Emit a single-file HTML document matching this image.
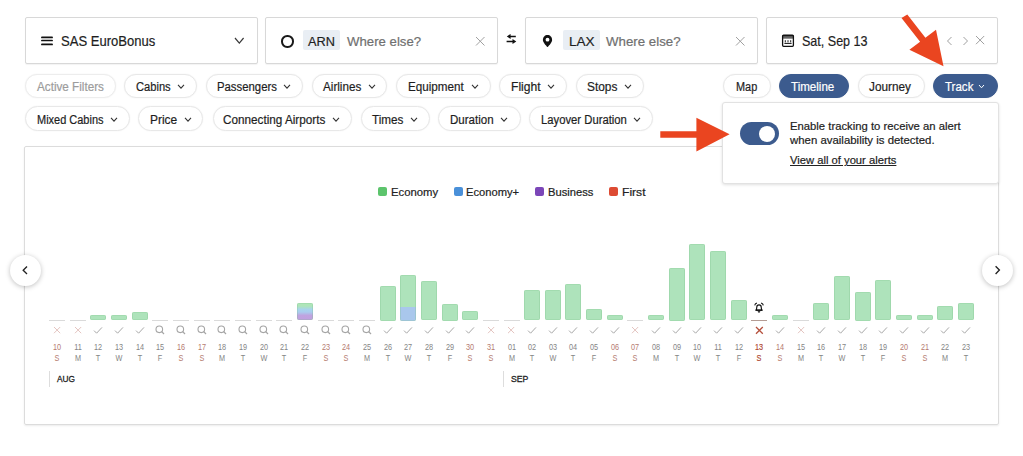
<!DOCTYPE html>
<html><head><meta charset="utf-8"><style>
*{margin:0;padding:0;box-sizing:border-box}
html,body{width:1023px;height:456px;overflow:hidden;background:#fff;font-family:"Liberation Sans", sans-serif;position:relative}
.tx{position:absolute;white-space:nowrap;transform-origin:0 0;-webkit-text-stroke:0.2px currentColor}
.box{position:absolute;top:17px;height:47px;border:1px solid #d8d8d8;border-radius:2px;background:#fff;box-shadow:0 1px 1px rgba(0,0,0,0.05)}
.chip{position:absolute;top:30px;height:20px;background:#e9eef4;border-radius:2px}
.pill{position:absolute;height:24.4px;border:1px solid #e8e8e8;border-radius:13px;background:#fff;box-shadow:0 0 1.5px rgba(0,0,0,0.07)}
.pill.inactive{border-color:#ededed}
.pill.active{background:#3c5b8e;border-color:#3c5b8e}
.card{position:absolute;left:23.7px;top:146.2px;width:975.4px;height:279.3px;border:1px solid #dcdcdc;border-radius:2px;box-shadow:0 1px 2px rgba(0,0,0,0.08)}
.nav{position:absolute;top:254.5px;width:31px;height:31px;border-radius:50%;background:#fff;box-shadow:0 1px 5px rgba(0,0,0,0.25)}
.nav svg{display:block}
.bar{position:absolute;width:16px;background:#aee3bb;border-radius:2px;box-shadow:inset 0 0 0 0.6px rgba(120,190,135,0.45)}
.dl{position:absolute;top:342.3px;width:20px;text-align:center;font-size:9.6px;line-height:10.4px;transform:scaleX(0.76);white-space:nowrap}
.pop{position:absolute;left:722.3px;top:102px;width:276.7px;height:82px;background:#fff;border:1px solid #e2e2e2;border-radius:3px;box-shadow:0 1px 3px rgba(0,0,0,0.12)}
</style></head><body>
<div class="box" style="left:25px;width:232.5px"></div>
<div class="box" style="left:265px;width:233px"></div>
<div class="box" style="left:525px;width:233px"></div>
<div class="box" style="left:766px;width:232px"></div>
<svg style="position:absolute;left:41px;top:36px" width="12" height="10" viewBox="0 0 12 10"><path d="M0.9 1.4h10.2M0.9 4.5h10.2M0.9 8.4h10.2" stroke="#111" stroke-width="1.7" stroke-linecap="round"/></svg>
<svg style="position:absolute;left:234.3px;top:37.3px" width="10.6" height="7.1" viewBox="-1 -1 10.6 7.1"><path d="M0 0 L4.3 5.1 L8.6 0" fill="none" stroke="#3a3a3a" stroke-width="1.2"/></svg>
<div style="position:absolute;left:281.3px;top:35.2px;width:12.4px;height:12.4px;border:2.1px solid #1a1a1a;border-radius:50%"></div>
<div class="chip" style="left:303px;width:37px"></div>
<svg style="position:absolute;left:474.6px;top:36.2px" width="10.5" height="10.5" viewBox="-1 -1 10.5 10.5"><path d="M0 0L8.5 8.5M8.5 0L0 8.5" stroke="#a0a0a0" stroke-width="1.0" fill="none"/></svg>
<svg style="position:absolute;left:505px;top:32px" width="13" height="12" viewBox="0 0 13 12"><path d="M4.5 4.4h6.3M1.6 9.4h6.5" stroke="#111" stroke-width="1.5"/><path d="M1.8 4.4L5.6 1.9V6.9Z M11.3 9.4L7.5 6.9V11.9Z" fill="#111"/></svg>
<svg style="position:absolute;left:542.2px;top:34.7px" width="11" height="12" viewBox="0 0 11 12"><path d="M5.5 0C2.9 0 0.9 2.1 0.9 4.9C0.9 7.8 5.5 12 5.5 12C5.5 12 10.1 7.8 10.1 4.9C10.1 2.1 8.1 0 5.5 0Z" fill="#111"/><circle cx="5.5" cy="4.7" r="1.9" fill="#fff"/></svg>
<div class="chip" style="left:563px;width:37px"></div>
<svg style="position:absolute;left:735.2px;top:36.2px" width="10.5" height="10.5" viewBox="-1 -1 10.5 10.5"><path d="M0 0L8.5 8.5M8.5 0L0 8.5" stroke="#a0a0a0" stroke-width="1.0" fill="none"/></svg>
<svg style="position:absolute;left:781px;top:33px" width="14" height="15" viewBox="0 0 14 15"><rect x="1.6" y="2.1" width="10.8" height="11.2" rx="1" fill="none" stroke="#111" stroke-width="1.3"/><rect x="1.6" y="2.1" width="10.8" height="1.6" fill="#111"/><path d="M1.6 4.9h10.8" stroke="#111" stroke-width="1.1"/><path d="M4.3 7.2v2.2M7 7.2v2.2M9.7 7.2v2.2" stroke="#222" stroke-width="1"/><path d="M3.4 10.4h7.2" stroke="#111" stroke-width="1"/></svg>
<svg style="position:absolute;left:945.5px;top:36px" width="8" height="10" viewBox="0 0 8 10"><path d="M5.5 1L1.5 5L5.5 9" fill="none" stroke="#a0a0a0" stroke-width="1"/></svg>
<svg style="position:absolute;left:961.5px;top:36px" width="8" height="10" viewBox="0 0 8 10"><path d="M1.5 1L5.5 5L1.5 9" fill="none" stroke="#a0a0a0" stroke-width="1"/></svg>
<svg style="position:absolute;left:975.4px;top:35.3px" width="10.2" height="10.2" viewBox="-1 -1 10.2 10.2"><path d="M0 0L8.2 8.2M8.2 0L0 8.2" stroke="#a0a0a0" stroke-width="1.0" fill="none"/></svg>
<div class="pill inactive" style="left:25px;width:91px;top:73.6px"></div>
<div class="pill" style="left:124px;width:73px;top:73.6px"></div>
<svg style="position:absolute;left:177.4px;top:83.9px" width="8" height="5.2" viewBox="-1 -1 8 5.2"><path d="M0 0 L3.0 3.2 L6 0" fill="none" stroke="#333" stroke-width="1.1"/></svg>
<div class="pill" style="left:206px;width:97px;top:73.6px"></div>
<svg style="position:absolute;left:283.4px;top:83.9px" width="8" height="5.2" viewBox="-1 -1 8 5.2"><path d="M0 0 L3.0 3.2 L6 0" fill="none" stroke="#333" stroke-width="1.1"/></svg>
<div class="pill" style="left:311.5px;width:75.5px;top:73.6px"></div>
<svg style="position:absolute;left:368.3px;top:83.9px" width="8" height="5.2" viewBox="-1 -1 8 5.2"><path d="M0 0 L3.0 3.2 L6 0" fill="none" stroke="#333" stroke-width="1.1"/></svg>
<div class="pill" style="left:396px;width:94.5px;top:73.6px"></div>
<svg style="position:absolute;left:470.9px;top:83.9px" width="8" height="5.2" viewBox="-1 -1 8 5.2"><path d="M0 0 L3.0 3.2 L6 0" fill="none" stroke="#333" stroke-width="1.1"/></svg>
<div class="pill" style="left:499px;width:67.5px;top:73.6px"></div>
<svg style="position:absolute;left:547.1px;top:83.9px" width="8" height="5.2" viewBox="-1 -1 8 5.2"><path d="M0 0 L3.0 3.2 L6 0" fill="none" stroke="#333" stroke-width="1.1"/></svg>
<div class="pill" style="left:575.5px;width:68.0px;top:73.6px"></div>
<svg style="position:absolute;left:623.9px;top:83.9px" width="8" height="5.2" viewBox="-1 -1 8 5.2"><path d="M0 0 L3.0 3.2 L6 0" fill="none" stroke="#333" stroke-width="1.1"/></svg>
<div class="pill" style="left:25px;width:104.5px;top:106.2px"></div>
<svg style="position:absolute;left:109.9px;top:117.1px" width="8" height="5.2" viewBox="-1 -1 8 5.2"><path d="M0 0 L3.0 3.2 L6 0" fill="none" stroke="#333" stroke-width="1.1"/></svg>
<div class="pill" style="left:138px;width:65px;top:106.2px"></div>
<svg style="position:absolute;left:183.6px;top:117.1px" width="8" height="5.2" viewBox="-1 -1 8 5.2"><path d="M0 0 L3.0 3.2 L6 0" fill="none" stroke="#333" stroke-width="1.1"/></svg>
<div class="pill" style="left:212.5px;width:139.0px;top:106.2px"></div>
<svg style="position:absolute;left:331.9px;top:117.1px" width="8" height="5.2" viewBox="-1 -1 8 5.2"><path d="M0 0 L3.0 3.2 L6 0" fill="none" stroke="#333" stroke-width="1.1"/></svg>
<div class="pill" style="left:360.5px;width:69.0px;top:106.2px"></div>
<svg style="position:absolute;left:410.2px;top:117.1px" width="8" height="5.2" viewBox="-1 -1 8 5.2"><path d="M0 0 L3.0 3.2 L6 0" fill="none" stroke="#333" stroke-width="1.1"/></svg>
<div class="pill" style="left:438px;width:82.5px;top:106.2px"></div>
<svg style="position:absolute;left:500.09999999999997px;top:117.1px" width="8" height="5.2" viewBox="-1 -1 8 5.2"><path d="M0 0 L3.0 3.2 L6 0" fill="none" stroke="#333" stroke-width="1.1"/></svg>
<div class="pill" style="left:528.5px;width:124.0px;top:106.2px"></div>
<svg style="position:absolute;left:632.9000000000001px;top:117.1px" width="8" height="5.2" viewBox="-1 -1 8 5.2"><path d="M0 0 L3.0 3.2 L6 0" fill="none" stroke="#333" stroke-width="1.1"/></svg>
<div class="pill" style="left:723px;width:48px;top:73.6px"></div>
<div class="pill active" style="left:779px;width:70px;top:73.6px"></div>
<div class="pill" style="left:857.5px;width:67.5px;top:73.6px"></div>
<div class="pill active" style="left:933px;width:65px;top:73.6px"></div>
<svg style="position:absolute;left:977.8px;top:83.8px" width="7" height="4.8" viewBox="-1 -1 7 4.8"><path d="M0 0 L2.5 2.8 L5 0" fill="none" stroke="#fff" stroke-width="1.0"/></svg>
<div class="card"></div>
<div class="nav" style="left:10px"><svg width="31" height="31" viewBox="0 0 31 31"><path d="M17 11.5L13.2 15.2L17 18.9" fill="none" stroke="#222" stroke-width="1.35"/></svg></div>
<div class="nav" style="left:982px"><svg width="31" height="31" viewBox="0 0 31 31"><path d="M13.6 11.3L17.4 15.1L13.6 18.9" fill="none" stroke="#222" stroke-width="1.35"/></svg></div>
<div style="position:absolute;left:377.8px;top:187.4px;width:9.3px;height:8.4px;background:#5cc46c;border-radius:2px"></div>
<div style="position:absolute;left:453.8px;top:187.4px;width:9.3px;height:8.4px;background:#4a90d9;border-radius:2px"></div>
<div style="position:absolute;left:534.5px;top:187.4px;width:9.3px;height:8.4px;background:#7b46b8;border-radius:2px"></div>
<div style="position:absolute;left:608.5px;top:187.4px;width:9.3px;height:8.4px;background:#dd4b33;border-radius:2px"></div>
<div style="position:absolute;left:49.00px;top:319.5px;width:16px;height:1px;background:#dadada"></div>
<svg style="position:absolute;left:52.9px;top:325.8px" width="8.2" height="8.2" viewBox="-1 -1 8.2 8.2"><path d="M0 0L6.2 6.2M6.2 0L0 6.2" stroke="#e4c4c0" stroke-width="1.0" fill="none"/></svg>
<div class="dl" style="left:47.00px;color:#b57b70;">10<br>S</div>
<div style="position:absolute;left:69.66px;top:319.5px;width:16px;height:1px;background:#dadada"></div>
<svg style="position:absolute;left:73.55909090909091px;top:325.8px" width="8.2" height="8.2" viewBox="-1 -1 8.2 8.2"><path d="M0 0L6.2 6.2M6.2 0L0 6.2" stroke="#e4c4c0" stroke-width="1.0" fill="none"/></svg>
<div class="dl" style="left:67.66px;color:#858585;">11<br>M</div>
<div class="bar" style="left:90.32px;top:315.2px;height:5.3px"></div>
<svg style="position:absolute;left:93.32px;top:325.5px" width="10" height="9" viewBox="0 0 10 9"><path d="M1 4.6L3.6 7.2L9 1.4" fill="none" stroke="#a8a8a8" stroke-width="1"/></svg>
<div class="dl" style="left:88.32px;color:#858585;">12<br>T</div>
<div class="bar" style="left:110.98px;top:315.2px;height:5.3px"></div>
<svg style="position:absolute;left:113.98px;top:325.5px" width="10" height="9" viewBox="0 0 10 9"><path d="M1 4.6L3.6 7.2L9 1.4" fill="none" stroke="#a8a8a8" stroke-width="1"/></svg>
<div class="dl" style="left:108.98px;color:#858585;">13<br>W</div>
<div class="bar" style="left:131.64px;top:312.4px;height:8.1px"></div>
<svg style="position:absolute;left:134.64px;top:325.5px" width="10" height="9" viewBox="0 0 10 9"><path d="M1 4.6L3.6 7.2L9 1.4" fill="none" stroke="#a8a8a8" stroke-width="1"/></svg>
<div class="dl" style="left:129.64px;color:#858585;">14<br>T</div>
<div style="position:absolute;left:152.30px;top:319.5px;width:16px;height:1px;background:#dadada"></div>
<svg style="position:absolute;left:155.30px;top:325px" width="10" height="10" viewBox="0 0 10 10"><circle cx="4.3" cy="4.3" r="3.3" fill="none" stroke="#a5a5a5" stroke-width="1.1"/><path d="M6.7 6.7L9 9" stroke="#a5a5a5" stroke-width="1.2"/></svg>
<div class="dl" style="left:150.30px;color:#858585;">15<br>F</div>
<div style="position:absolute;left:172.95px;top:319.5px;width:16px;height:1px;background:#dadada"></div>
<svg style="position:absolute;left:175.95px;top:325px" width="10" height="10" viewBox="0 0 10 10"><circle cx="4.3" cy="4.3" r="3.3" fill="none" stroke="#a5a5a5" stroke-width="1.1"/><path d="M6.7 6.7L9 9" stroke="#a5a5a5" stroke-width="1.2"/></svg>
<div class="dl" style="left:170.95px;color:#b57b70;">16<br>S</div>
<div style="position:absolute;left:193.61px;top:319.5px;width:16px;height:1px;background:#dadada"></div>
<svg style="position:absolute;left:196.61px;top:325px" width="10" height="10" viewBox="0 0 10 10"><circle cx="4.3" cy="4.3" r="3.3" fill="none" stroke="#a5a5a5" stroke-width="1.1"/><path d="M6.7 6.7L9 9" stroke="#a5a5a5" stroke-width="1.2"/></svg>
<div class="dl" style="left:191.61px;color:#b57b70;">17<br>S</div>
<div style="position:absolute;left:214.27px;top:319.5px;width:16px;height:1px;background:#dadada"></div>
<svg style="position:absolute;left:217.27px;top:325px" width="10" height="10" viewBox="0 0 10 10"><circle cx="4.3" cy="4.3" r="3.3" fill="none" stroke="#a5a5a5" stroke-width="1.1"/><path d="M6.7 6.7L9 9" stroke="#a5a5a5" stroke-width="1.2"/></svg>
<div class="dl" style="left:212.27px;color:#858585;">18<br>M</div>
<div style="position:absolute;left:234.93px;top:319.5px;width:16px;height:1px;background:#dadada"></div>
<svg style="position:absolute;left:237.93px;top:325px" width="10" height="10" viewBox="0 0 10 10"><circle cx="4.3" cy="4.3" r="3.3" fill="none" stroke="#a5a5a5" stroke-width="1.1"/><path d="M6.7 6.7L9 9" stroke="#a5a5a5" stroke-width="1.2"/></svg>
<div class="dl" style="left:232.93px;color:#858585;">19<br>T</div>
<div style="position:absolute;left:255.59px;top:319.5px;width:16px;height:1px;background:#dadada"></div>
<svg style="position:absolute;left:258.59px;top:325px" width="10" height="10" viewBox="0 0 10 10"><circle cx="4.3" cy="4.3" r="3.3" fill="none" stroke="#a5a5a5" stroke-width="1.1"/><path d="M6.7 6.7L9 9" stroke="#a5a5a5" stroke-width="1.2"/></svg>
<div class="dl" style="left:253.59px;color:#858585;">20<br>W</div>
<div style="position:absolute;left:276.25px;top:319.5px;width:16px;height:1px;background:#dadada"></div>
<svg style="position:absolute;left:279.25px;top:325px" width="10" height="10" viewBox="0 0 10 10"><circle cx="4.3" cy="4.3" r="3.3" fill="none" stroke="#a5a5a5" stroke-width="1.1"/><path d="M6.7 6.7L9 9" stroke="#a5a5a5" stroke-width="1.2"/></svg>
<div class="dl" style="left:274.25px;color:#858585;">21<br>T</div>
<div class="bar" style="left:296.91px;top:303.2px;height:17.3px;background:linear-gradient(#aee5b9 0,#aee5b9 3px,#a8d3ec 6.5px,#a9cdee 9px,#bfa3e0 12.5px,#c0a0df 100%)"></div>
<svg style="position:absolute;left:299.91px;top:325px" width="10" height="10" viewBox="0 0 10 10"><circle cx="4.3" cy="4.3" r="3.3" fill="none" stroke="#a5a5a5" stroke-width="1.1"/><path d="M6.7 6.7L9 9" stroke="#a5a5a5" stroke-width="1.2"/></svg>
<div class="dl" style="left:294.91px;color:#858585;">22<br>F</div>
<div style="position:absolute;left:317.57px;top:319.5px;width:16px;height:1px;background:#dadada"></div>
<svg style="position:absolute;left:320.57px;top:325px" width="10" height="10" viewBox="0 0 10 10"><circle cx="4.3" cy="4.3" r="3.3" fill="none" stroke="#a5a5a5" stroke-width="1.1"/><path d="M6.7 6.7L9 9" stroke="#a5a5a5" stroke-width="1.2"/></svg>
<div class="dl" style="left:315.57px;color:#b57b70;">23<br>S</div>
<div style="position:absolute;left:338.23px;top:319.5px;width:16px;height:1px;background:#dadada"></div>
<svg style="position:absolute;left:341.23px;top:325px" width="10" height="10" viewBox="0 0 10 10"><circle cx="4.3" cy="4.3" r="3.3" fill="none" stroke="#a5a5a5" stroke-width="1.1"/><path d="M6.7 6.7L9 9" stroke="#a5a5a5" stroke-width="1.2"/></svg>
<div class="dl" style="left:336.23px;color:#b57b70;">24<br>S</div>
<div style="position:absolute;left:358.89px;top:319.5px;width:16px;height:1px;background:#dadada"></div>
<svg style="position:absolute;left:361.89px;top:325px" width="10" height="10" viewBox="0 0 10 10"><circle cx="4.3" cy="4.3" r="3.3" fill="none" stroke="#a5a5a5" stroke-width="1.1"/><path d="M6.7 6.7L9 9" stroke="#a5a5a5" stroke-width="1.2"/></svg>
<div class="dl" style="left:356.89px;color:#858585;">25<br>M</div>
<div class="bar" style="left:379.55px;top:285.5px;height:35.0px"></div>
<svg style="position:absolute;left:382.55px;top:325.5px" width="10" height="9" viewBox="0 0 10 9"><path d="M1 4.6L3.6 7.2L9 1.4" fill="none" stroke="#a8a8a8" stroke-width="1"/></svg>
<div class="dl" style="left:377.55px;color:#858585;">26<br>T</div>
<div class="bar" style="left:400.20px;top:275px;height:45.5px;background:linear-gradient(#aee3bb 0 32.0px,#a9c7ec 32.0px)"></div>
<svg style="position:absolute;left:403.20px;top:325.5px" width="10" height="9" viewBox="0 0 10 9"><path d="M1 4.6L3.6 7.2L9 1.4" fill="none" stroke="#a8a8a8" stroke-width="1"/></svg>
<div class="dl" style="left:398.20px;color:#858585;">27<br>W</div>
<div class="bar" style="left:420.86px;top:280.9px;height:39.6px"></div>
<svg style="position:absolute;left:423.86px;top:325.5px" width="10" height="9" viewBox="0 0 10 9"><path d="M1 4.6L3.6 7.2L9 1.4" fill="none" stroke="#a8a8a8" stroke-width="1"/></svg>
<div class="dl" style="left:418.86px;color:#858585;">28<br>T</div>
<div class="bar" style="left:441.52px;top:303.5px;height:17.0px"></div>
<svg style="position:absolute;left:444.52px;top:325.5px" width="10" height="9" viewBox="0 0 10 9"><path d="M1 4.6L3.6 7.2L9 1.4" fill="none" stroke="#a8a8a8" stroke-width="1"/></svg>
<div class="dl" style="left:439.52px;color:#858585;">29<br>F</div>
<div class="bar" style="left:462.18px;top:311.2px;height:9.3px"></div>
<svg style="position:absolute;left:465.18px;top:325.5px" width="10" height="9" viewBox="0 0 10 9"><path d="M1 4.6L3.6 7.2L9 1.4" fill="none" stroke="#a8a8a8" stroke-width="1"/></svg>
<div class="dl" style="left:460.18px;color:#b57b70;">30<br>S</div>
<div style="position:absolute;left:482.84px;top:319.5px;width:16px;height:1px;background:#dadada"></div>
<svg style="position:absolute;left:486.7409090909091px;top:325.8px" width="8.2" height="8.2" viewBox="-1 -1 8.2 8.2"><path d="M0 0L6.2 6.2M6.2 0L0 6.2" stroke="#e4c4c0" stroke-width="1.0" fill="none"/></svg>
<div class="dl" style="left:480.84px;color:#b57b70;">31<br>S</div>
<div style="position:absolute;left:503.50px;top:319.5px;width:16px;height:1px;background:#dadada"></div>
<svg style="position:absolute;left:507.4px;top:325.8px" width="8.2" height="8.2" viewBox="-1 -1 8.2 8.2"><path d="M0 0L6.2 6.2M6.2 0L0 6.2" stroke="#e4c4c0" stroke-width="1.0" fill="none"/></svg>
<div class="dl" style="left:501.50px;color:#858585;">01<br>M</div>
<div class="bar" style="left:524.16px;top:289.8px;height:30.7px"></div>
<svg style="position:absolute;left:527.16px;top:325.5px" width="10" height="9" viewBox="0 0 10 9"><path d="M1 4.6L3.6 7.2L9 1.4" fill="none" stroke="#a8a8a8" stroke-width="1"/></svg>
<div class="dl" style="left:522.16px;color:#858585;">02<br>T</div>
<div class="bar" style="left:544.82px;top:289.8px;height:30.7px"></div>
<svg style="position:absolute;left:547.82px;top:325.5px" width="10" height="9" viewBox="0 0 10 9"><path d="M1 4.6L3.6 7.2L9 1.4" fill="none" stroke="#a8a8a8" stroke-width="1"/></svg>
<div class="dl" style="left:542.82px;color:#858585;">03<br>W</div>
<div class="bar" style="left:565.48px;top:284.4px;height:36.1px"></div>
<svg style="position:absolute;left:568.48px;top:325.5px" width="10" height="9" viewBox="0 0 10 9"><path d="M1 4.6L3.6 7.2L9 1.4" fill="none" stroke="#a8a8a8" stroke-width="1"/></svg>
<div class="dl" style="left:563.48px;color:#858585;">04<br>T</div>
<div class="bar" style="left:586.14px;top:308.6px;height:11.9px"></div>
<svg style="position:absolute;left:589.14px;top:325.5px" width="10" height="9" viewBox="0 0 10 9"><path d="M1 4.6L3.6 7.2L9 1.4" fill="none" stroke="#a8a8a8" stroke-width="1"/></svg>
<div class="dl" style="left:584.14px;color:#858585;">05<br>F</div>
<div class="bar" style="left:606.80px;top:314.9px;height:5.6px"></div>
<svg style="position:absolute;left:609.80px;top:325.5px" width="10" height="9" viewBox="0 0 10 9"><path d="M1 4.6L3.6 7.2L9 1.4" fill="none" stroke="#a8a8a8" stroke-width="1"/></svg>
<div class="dl" style="left:604.80px;color:#b57b70;">06<br>S</div>
<div style="position:absolute;left:627.45px;top:319.5px;width:16px;height:1px;background:#dadada"></div>
<svg style="position:absolute;left:631.3545454545455px;top:325.8px" width="8.2" height="8.2" viewBox="-1 -1 8.2 8.2"><path d="M0 0L6.2 6.2M6.2 0L0 6.2" stroke="#e4c4c0" stroke-width="1.0" fill="none"/></svg>
<div class="dl" style="left:625.45px;color:#b57b70;">07<br>S</div>
<div class="bar" style="left:648.11px;top:314.9px;height:5.6px"></div>
<svg style="position:absolute;left:651.11px;top:325.5px" width="10" height="9" viewBox="0 0 10 9"><path d="M1 4.6L3.6 7.2L9 1.4" fill="none" stroke="#a8a8a8" stroke-width="1"/></svg>
<div class="dl" style="left:646.11px;color:#858585;">08<br>M</div>
<div class="bar" style="left:668.77px;top:267.5px;height:53.0px"></div>
<svg style="position:absolute;left:671.77px;top:325.5px" width="10" height="9" viewBox="0 0 10 9"><path d="M1 4.6L3.6 7.2L9 1.4" fill="none" stroke="#a8a8a8" stroke-width="1"/></svg>
<div class="dl" style="left:666.77px;color:#858585;">09<br>T</div>
<div class="bar" style="left:689.43px;top:243.6px;height:76.9px"></div>
<svg style="position:absolute;left:692.43px;top:325.5px" width="10" height="9" viewBox="0 0 10 9"><path d="M1 4.6L3.6 7.2L9 1.4" fill="none" stroke="#a8a8a8" stroke-width="1"/></svg>
<div class="dl" style="left:687.43px;color:#858585;">10<br>W</div>
<div class="bar" style="left:710.09px;top:250.6px;height:69.9px"></div>
<svg style="position:absolute;left:713.09px;top:325.5px" width="10" height="9" viewBox="0 0 10 9"><path d="M1 4.6L3.6 7.2L9 1.4" fill="none" stroke="#a8a8a8" stroke-width="1"/></svg>
<div class="dl" style="left:708.09px;color:#858585;">11<br>T</div>
<div class="bar" style="left:730.75px;top:299.9px;height:20.6px"></div>
<svg style="position:absolute;left:733.75px;top:325.5px" width="10" height="9" viewBox="0 0 10 9"><path d="M1 4.6L3.6 7.2L9 1.4" fill="none" stroke="#a8a8a8" stroke-width="1"/></svg>
<div class="dl" style="left:728.75px;color:#858585;">12<br>F</div>
<div style="position:absolute;left:751.41px;top:319.5px;width:16px;height:1px;background:#b49c94"></div>
<svg style="position:absolute;left:755.009090909091px;top:325.8px" width="8.8" height="8.8" viewBox="-1 -1 8.8 8.8"><path d="M0 0L6.8 6.8M6.8 0L0 6.8" stroke="#b5503c" stroke-width="1.3" fill="none"/></svg>
<div class="dl" style="left:749.41px;color:#b04a35;-webkit-text-stroke:0.2px currentColor;">13<br>S</div>
<div class="bar" style="left:772.07px;top:314.9px;height:5.6px"></div>
<svg style="position:absolute;left:775.07px;top:325.5px" width="10" height="9" viewBox="0 0 10 9"><path d="M1 4.6L3.6 7.2L9 1.4" fill="none" stroke="#a8a8a8" stroke-width="1"/></svg>
<div class="dl" style="left:770.07px;color:#b57b70;">14<br>S</div>
<div style="position:absolute;left:792.73px;top:319.5px;width:16px;height:1px;background:#dadada"></div>
<svg style="position:absolute;left:796.6272727272727px;top:325.8px" width="8.2" height="8.2" viewBox="-1 -1 8.2 8.2"><path d="M0 0L6.2 6.2M6.2 0L0 6.2" stroke="#e4c4c0" stroke-width="1.0" fill="none"/></svg>
<div class="dl" style="left:790.73px;color:#858585;">15<br>M</div>
<div class="bar" style="left:813.39px;top:302.7px;height:17.8px"></div>
<svg style="position:absolute;left:816.39px;top:325.5px" width="10" height="9" viewBox="0 0 10 9"><path d="M1 4.6L3.6 7.2L9 1.4" fill="none" stroke="#a8a8a8" stroke-width="1"/></svg>
<div class="dl" style="left:811.39px;color:#858585;">16<br>T</div>
<div class="bar" style="left:834.05px;top:275.7px;height:44.8px"></div>
<svg style="position:absolute;left:837.05px;top:325.5px" width="10" height="9" viewBox="0 0 10 9"><path d="M1 4.6L3.6 7.2L9 1.4" fill="none" stroke="#a8a8a8" stroke-width="1"/></svg>
<div class="dl" style="left:832.05px;color:#858585;">17<br>W</div>
<div class="bar" style="left:854.70px;top:291.5px;height:29.0px"></div>
<svg style="position:absolute;left:857.70px;top:325.5px" width="10" height="9" viewBox="0 0 10 9"><path d="M1 4.6L3.6 7.2L9 1.4" fill="none" stroke="#a8a8a8" stroke-width="1"/></svg>
<div class="dl" style="left:852.70px;color:#858585;">18<br>T</div>
<div class="bar" style="left:875.36px;top:279.7px;height:40.8px"></div>
<svg style="position:absolute;left:878.36px;top:325.5px" width="10" height="9" viewBox="0 0 10 9"><path d="M1 4.6L3.6 7.2L9 1.4" fill="none" stroke="#a8a8a8" stroke-width="1"/></svg>
<div class="dl" style="left:873.36px;color:#858585;">19<br>F</div>
<div class="bar" style="left:896.02px;top:314.9px;height:5.6px"></div>
<svg style="position:absolute;left:899.02px;top:325.5px" width="10" height="9" viewBox="0 0 10 9"><path d="M1 4.6L3.6 7.2L9 1.4" fill="none" stroke="#a8a8a8" stroke-width="1"/></svg>
<div class="dl" style="left:894.02px;color:#b57b70;">20<br>S</div>
<div class="bar" style="left:916.68px;top:314.9px;height:5.6px"></div>
<svg style="position:absolute;left:919.68px;top:325.5px" width="10" height="9" viewBox="0 0 10 9"><path d="M1 4.6L3.6 7.2L9 1.4" fill="none" stroke="#a8a8a8" stroke-width="1"/></svg>
<div class="dl" style="left:914.68px;color:#b57b70;">21<br>S</div>
<div class="bar" style="left:937.34px;top:306.2px;height:14.3px"></div>
<svg style="position:absolute;left:940.34px;top:325.5px" width="10" height="9" viewBox="0 0 10 9"><path d="M1 4.6L3.6 7.2L9 1.4" fill="none" stroke="#a8a8a8" stroke-width="1"/></svg>
<div class="dl" style="left:935.34px;color:#858585;">22<br>M</div>
<div class="bar" style="left:958.00px;top:302.7px;height:17.8px"></div>
<svg style="position:absolute;left:961.00px;top:325.5px" width="10" height="9" viewBox="0 0 10 9"><path d="M1 4.6L3.6 7.2L9 1.4" fill="none" stroke="#a8a8a8" stroke-width="1"/></svg>
<div class="dl" style="left:956.00px;color:#858585;">23<br>T</div>
<svg style="position:absolute;left:754.41px;top:301.5px" width="10" height="11" viewBox="0 0 10 11"><path d="M2.2 8.1C2.6 7 2.8 6 2.8 5.1C2.8 3.7 3.7 2.8 5 2.8C6.3 2.8 7.2 3.7 7.2 5.1C7.2 6 7.4 7 7.8 8.1Z" fill="none" stroke="#111" stroke-width="1.15" stroke-linejoin="round"/><path d="M1.4 8.2H8.6" stroke="#111" stroke-width="1.2"/><path d="M4 9.3Q5 10.6 6 9.3" fill="none" stroke="#111" stroke-width="1.1"/><path d="M0.7 3.3Q1 1.5 2.9 0.9M9.3 3.3Q9 1.5 7.1 0.9" fill="none" stroke="#111" stroke-width="1.05"/></svg>
<div style="position:absolute;left:48.5px;top:371px;width:1px;height:16px;background:#ddd"></div>
<div style="position:absolute;left:503px;top:371px;width:1px;height:16px;background:#ddd"></div>
<div class="pop"></div>
<div style="position:absolute;left:739.5px;top:122px;width:39px;height:22.5px;border-radius:12px;background:#3c5b8e"></div>
<div style="position:absolute;left:759px;top:125.5px;width:16px;height:16px;border-radius:50%;background:#fff"></div>
<div class="tx" style="left:60.9px;top:34.12px;font-size:14.3px;line-height:14.3px;color:#1e1e1e;font-weight:normal;transform:scaleX(0.9117);">SAS EuroBonus</div>
<div class="tx" style="left:308.1px;top:34.75px;font-size:13.3px;line-height:13.3px;color:#1e1e1e;font-weight:normal;transform:scaleX(0.9580);">ARN</div>
<div class="tx" style="left:346.7px;top:34.75px;font-size:13.3px;line-height:13.3px;color:#707070;font-weight:normal;transform:scaleX(0.9925);">Where else?</div>
<div class="tx" style="left:568.8px;top:34.75px;font-size:13.3px;line-height:13.3px;color:#1e1e1e;font-weight:normal;transform:scaleX(1.0183);">LAX</div>
<div class="tx" style="left:605.5px;top:34.75px;font-size:13.3px;line-height:13.3px;color:#707070;font-weight:normal;transform:scaleX(0.9992);">Where else?</div>
<div class="tx" style="left:801.9px;top:34.12px;font-size:14.3px;line-height:14.3px;color:#1e1e1e;font-weight:normal;transform:scaleX(0.8766);">Sat, Sep 13</div>
<div class="tx" style="left:36.9px;top:81.13px;font-size:12px;line-height:12px;color:#9c9c9c;font-weight:normal;transform:scaleX(0.9740);">Active Filters</div>
<div class="tx" style="left:135.9px;top:81.13px;font-size:12px;line-height:12px;color:#1e1e1e;font-weight:normal;transform:scaleX(0.9288);">Cabins</div>
<div class="tx" style="left:216.7px;top:81.13px;font-size:12px;line-height:12px;color:#1e1e1e;font-weight:normal;transform:scaleX(0.9452);">Passengers</div>
<div class="tx" style="left:323.2px;top:81.13px;font-size:12px;line-height:12px;color:#1e1e1e;font-weight:normal;transform:scaleX(0.9731);">Airlines</div>
<div class="tx" style="left:408.3px;top:81.13px;font-size:12px;line-height:12px;color:#1e1e1e;font-weight:normal;transform:scaleX(0.9725);">Equipment</div>
<div class="tx" style="left:510.7px;top:81.13px;font-size:12px;line-height:12px;color:#1e1e1e;font-weight:normal;transform:scaleX(1.0087);">Flight</div>
<div class="tx" style="left:586.7px;top:81.13px;font-size:12px;line-height:12px;color:#1e1e1e;font-weight:normal;transform:scaleX(0.9906);">Stops</div>
<div class="tx" style="left:36.9px;top:113.93px;font-size:12px;line-height:12px;color:#1e1e1e;font-weight:normal;transform:scaleX(0.9147);">Mixed Cabins</div>
<div class="tx" style="left:149.9px;top:113.93px;font-size:12px;line-height:12px;color:#1e1e1e;font-weight:normal;transform:scaleX(0.9947);">Price</div>
<div class="tx" style="left:223.1px;top:113.93px;font-size:12px;line-height:12px;color:#1e1e1e;font-weight:normal;transform:scaleX(0.9768);">Connecting Airports</div>
<div class="tx" style="left:372.3px;top:113.93px;font-size:12px;line-height:12px;color:#1e1e1e;font-weight:normal;transform:scaleX(0.9741);">Times</div>
<div class="tx" style="left:450.0px;top:113.93px;font-size:12px;line-height:12px;color:#1e1e1e;font-weight:normal;transform:scaleX(0.9612);">Duration</div>
<div class="tx" style="left:540.5px;top:113.93px;font-size:12px;line-height:12px;color:#1e1e1e;font-weight:normal;transform:scaleX(0.9399);">Layover Duration</div>
<div class="tx" style="left:735.6px;top:81.13px;font-size:12px;line-height:12px;color:#1e1e1e;font-weight:normal;transform:scaleX(0.9082);">Map</div>
<div class="tx" style="left:791.4px;top:81.13px;font-size:12px;line-height:12px;color:#fff;font-weight:normal;transform:scaleX(0.9642);">Timeline</div>
<div class="tx" style="left:868.8px;top:81.13px;font-size:12px;line-height:12px;color:#1e1e1e;font-weight:normal;transform:scaleX(0.9812);">Journey</div>
<div class="tx" style="left:945.3px;top:81.13px;font-size:12px;line-height:12px;color:#fff;font-weight:normal;transform:scaleX(0.9607);">Track</div>
<div class="tx" style="left:390.9px;top:186.96px;font-size:11px;line-height:11px;color:#222;font-weight:normal;transform:scaleX(1.0271);">Economy</div>
<div class="tx" style="left:466.3px;top:186.96px;font-size:11px;line-height:11px;color:#222;font-weight:normal;transform:scaleX(1.0157);">Economy+</div>
<div class="tx" style="left:547.8px;top:186.96px;font-size:11px;line-height:11px;color:#222;font-weight:normal;transform:scaleX(1.0170);">Business</div>
<div class="tx" style="left:621.7px;top:186.96px;font-size:11px;line-height:11px;color:#222;font-weight:normal;transform:scaleX(1.0986);">First</div>
<div class="tx" style="left:56.9px;top:375.33px;font-size:9px;line-height:9px;color:#1e1e1e;font-weight:normal;transform:scaleX(0.9223);-webkit-text-stroke:0.3px currentColor;">AUG</div>
<div class="tx" style="left:510.8px;top:375.33px;font-size:9px;line-height:9px;color:#1e1e1e;font-weight:normal;transform:scaleX(0.9658);-webkit-text-stroke:0.3px currentColor;">SEP</div>
<div class="tx" style="left:790.1px;top:121.02px;font-size:11.3px;line-height:11.3px;color:#222;font-weight:normal;transform:scaleX(0.9988);">Enable tracking to receive an alert</div>
<div class="tx" style="left:790.1px;top:135.32px;font-size:11.3px;line-height:11.3px;color:#222;font-weight:normal;transform:scaleX(1.0099);">when availability is detected.</div>
<div class="tx" style="left:790.1px;top:155.42px;font-size:11.3px;line-height:11.3px;color:#222;font-weight:normal;transform:scaleX(0.9928);text-decoration:underline;">View all of your alerts</div>
<svg style="position:absolute;left:0;top:0" width="1023" height="456" viewBox="0 0 1023 456"><polygon points="901.5,17.9 907.3,14.5 925.4,37.8 936,29.7 943.5,66.2 909.4,49.8 920.1,41.8" fill="#ea4520"/><polygon points="660.3,131.3 696.4,131.3 696.4,117.7 729.6,134.3 696.4,151.4 696.4,137.8 660.3,137.8" fill="#ea4520"/></svg>
</body></html>
